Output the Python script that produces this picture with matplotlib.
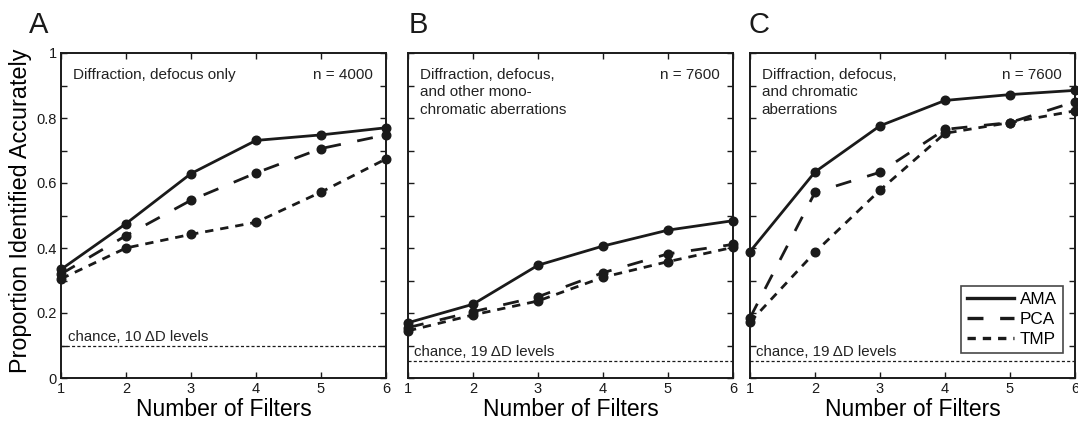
import matplotlib
matplotlib.use("Agg")
import matplotlib.pyplot as plt
from matplotlib.lines import Line2D

plt.rcParams['font.family'] = ['Liberation Sans', 'DejaVu Sans']
plt.rcParams['lines.scale_dashes'] = False

filters = [1, 2, 3, 4, 5, 6]

# Panel A: Diffraction, defocus only
ama_a = [0.334, 0.475, 0.629, 0.731, 0.748, 0.770]
pca_a = [0.320, 0.438, 0.547, 0.631, 0.706, 0.748]
tmp_a = [0.305, 0.400, 0.442, 0.479, 0.572, 0.674]

# Panel B: Diffraction, defocus, and other monochromatic aberrations
ama_b = [0.170, 0.227, 0.347, 0.406, 0.455, 0.484]
pca_b = [0.155, 0.204, 0.250, 0.324, 0.382, 0.411]
tmp_b = [0.145, 0.194, 0.237, 0.310, 0.358, 0.402]

# Panel C: Diffraction, defocus, and chromatic aberrations
ama_c = [0.389, 0.634, 0.776, 0.854, 0.872, 0.885]
pca_c = [0.185, 0.571, 0.633, 0.765, 0.786, 0.850]
tmp_c = [0.172, 0.387, 0.578, 0.753, 0.786, 0.822]

panel_letters = ["A", "B", "C"]
panel_titles = ["Diffraction, defocus only",
                "Diffraction, defocus,\nand other mono-\nchromatic aberrations",
                "Diffraction, defocus,\nand chromatic\naberrations"]
panel_n = ["n = 4000", "n = 7600", "n = 7600"]
chance_levels = [1 / 10, 1 / 19, 1 / 19]
chance_labels = ["chance, 10 \u0394D levels", "chance, 19 \u0394D levels", "chance, 19 \u0394D levels"]
series_names = ["AMA", "PCA", "TMP"]
data = [[ama_a, pca_a, tmp_a], [ama_b, pca_b, tmp_b], [ama_c, pca_c, tmp_c]]

W, H = 1078, 422
fig = plt.figure(figsize=(W / 100, H / 100), dpi=100)

lefts = [61, 408, 750]
letter_x = [29, 409, 749]
axw = 325
top, bottom = 53, 378
ink = '#1a1a1a'

styles = [dict(linestyle='-'),
          dict(linestyle=(0, (11.5, 12.0))),
          dict(linestyle=(0, (6.0, 5.0)))]

axes = []
for i in range(3):
    ax = fig.add_axes([lefts[i] / W, 1 - bottom / H, axw / W, (bottom - top) / H])
    axes.append(ax)
    for j, ys in enumerate(data[i]):
        ax.plot(filters, ys, color=ink, lw=2.0, marker='o', ms=6.2,
                clip_on=False, zorder=3, **styles[j])
    ax.axhline(chance_levels[i], color=ink, lw=0.9,
               linestyle=(0, (2.2, 1.6)), zorder=2)
    ax.text(1.1, chance_levels[i] + 0.005, chance_labels[i], fontsize=10.8,
            ha='left', va='bottom', color='#222222')
    ax.text(0.036, 0.955, panel_titles[i], transform=ax.transAxes, fontsize=11,
            ha='left', va='top', linespacing=1.33, color='#222222')
    ax.text(0.96, 0.955, panel_n[i], transform=ax.transAxes, fontsize=11,
            ha='right', va='top', color='#222222')
    ax.set_xlim(1, 6)
    ax.set_ylim(0, 1)
    ax.set_xticks(filters)
    ax.set_yticks([k / 10 for k in range(11)])
    if i == 0:
        ax.set_yticklabels(['0', '', '0.2', '', '0.4', '', '0.6', '', '0.8', '', '1'])
        ax.set_ylabel('Proportion Identified Accurately', fontsize=16.8)
        ax.yaxis.set_label_coords(-0.088, 0.515)
    else:
        ax.set_yticklabels([])
    ax.set_xticklabels([str(f) for f in filters])
    ax.tick_params(direction='in', top=True, right=True, length=4, width=1,
                   labelsize=10.5, pad=3, colors=ink)
    ax.set_xlabel('Number of Filters', fontsize=16.5, labelpad=1)
    for s in ax.spines.values():
        s.set_linewidth(1.4)
        s.set_color(ink)
    fig.text(letter_x[i] / W, 1 - 33 / H, panel_letters[i], fontsize=21,
             ha='left', va='baseline', color=ink)

handles = [Line2D([], [], color=ink, lw=2.4, **styles[j]) for j in range(3)]
leg = axes[2].legend(handles, series_names, loc='lower right',
                     bbox_to_anchor=(0.962, 0.077), fontsize=12.3, frameon=True,
                     fancybox=False, handlelength=2.75, handletextpad=0.35,
                     borderpad=0.35, labelspacing=0.28, borderaxespad=0)
leg.get_frame().set_edgecolor(ink)
leg.get_frame().set_linewidth(1.2)

fig.savefig('out.png', dpi=100)
